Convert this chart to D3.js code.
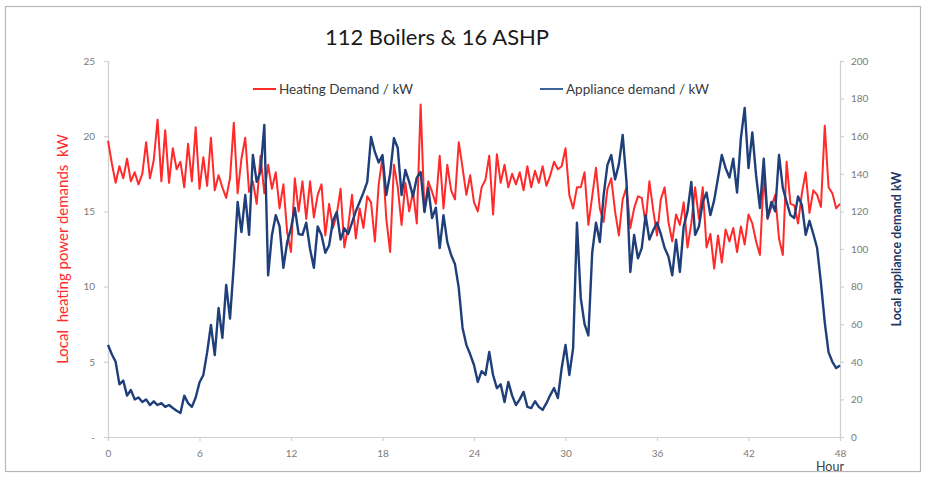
<!DOCTYPE html>
<html>
<head>
<meta charset="utf-8">
<script src="https://cdn.jsdelivr.net/npm/d3@7"></script>
<style>
  html, body { margin: 0; padding: 0; background: #ffffff; }
  svg { display: block; font-family: Lato, "Open Sans", "Liberation Sans", sans-serif; }
</style>
</head>
<body>
<svg id="chart" width="925" height="481"></svg>
<script>
// ---------------- DATA ----------------
const chartTitle = "112 Boilers & 16 ASHP";
const seriesNames = ["Heating Demand / kW", "Appliance demand / kW"];
const stepHours = 0.25; // time step between samples (hours)

// Heating demand (kW, left axis), samples every 0.25 h from 0 to 48 h
const heatingDemand = [
  19.7, 18.2, 16.9, 18.0,  17.2, 18.5, 17.0, 17.6,  16.8, 17.5, 19.6, 17.2,
  18.4, 21.1, 17.0, 20.4,  16.9, 19.2, 17.8, 18.3,  16.6, 19.5, 17.0, 20.6,
  16.5, 18.6, 16.7, 19.9,  16.4, 17.4, 16.6, 15.9,  17.2, 20.9, 16.2, 18.5,
  19.9, 16.3, 17.0, 15.5,  18.7, 16.2, 18.1, 16.5,  17.6, 15.2, 16.8, 13.6,
  12.3, 17.2, 15.0, 17.0,  14.5, 17.0, 14.6, 16.1,  16.8, 13.4, 15.5, 13.9,
  14.8, 16.5, 12.6, 14.0,  16.1, 13.2, 15.2, 13.9,  16.0, 15.6, 13.0, 16.8,
  18.6, 14.5, 12.3, 18.1,  16.6, 14.1, 16.9, 15.0,  16.3, 14.2, 22.1, 15.0,
  17.0, 16.3, 15.5, 18.7,  15.2, 18.1, 16.4, 15.8,  19.6, 17.9, 16.1, 17.4,
  15.6, 15.0, 16.6, 17.1,  18.7, 14.8, 18.8, 16.9,  18.1, 16.6, 17.5, 16.8,
  17.6, 16.4, 18.0, 16.6,  17.7, 16.9, 18.0, 16.7,  17.4, 18.3, 17.8, 18.0,
  19.2, 16.1, 15.2, 16.6,  16.6, 17.6, 14.1, 16.0,  17.9, 15.2, 14.3, 16.5,
  17.2, 15.0, 13.4, 15.8,  16.6, 13.9, 15.2, 16.0,  15.9, 14.2, 17.0, 15.1,
  13.4, 15.8, 16.6, 14.3,  13.0, 14.8, 14.1, 15.6,  12.6, 14.2, 16.6, 14.5,
  16.6, 12.6, 13.5, 11.2,  13.4, 11.6, 13.8, 13.0,  13.9, 12.3, 14.0, 12.8,
  14.8, 14.2, 13.0, 12.1,  17.4, 14.5, 15.3, 16.1,  13.2, 12.1, 18.3, 15.5,
  15.4, 14.2, 16.2, 17.6,  14.9, 16.4, 16.1, 15.3,  20.7, 16.6, 16.2, 15.2,
  15.5
];

// Appliance demand (kW, right axis), samples every 0.25 h from 0 to 48 h
const applianceDemand = [
  49, 44, 40, 28,  30, 22, 25, 20,  21, 18.6, 20, 17,  19, 17, 18, 16,
  17, 15.4, 14, 12.8,  22, 18, 16, 21,  29, 33, 45, 59.6,  43.6, 68.6, 52.7, 80.9,
  63, 91.5, 125, 109,  128.7, 107.5, 150, 135.7,  141, 166, 86, 107.5,  118, 112, 90, 103.7,
  111, 121.8, 108, 107.5,  114, 100, 90, 112,  107.5, 98, 102, 115,  119.7, 105, 111, 108,
  114, 120, 125, 130,  135.7, 159.6, 151.6, 146,  150, 128.7, 140, 159,  153.7, 128.7, 142, 135.7,
  128, 138, 141, 119.7,  132.5, 116.5, 122, 100.5,  118, 103.7, 96.8, 92,  79.3, 58, 49, 44,
  38.3, 29.3, 35, 33,  45.2, 33, 26, 28,  18.6, 29.3, 22, 17,  20, 24, 16, 15.4,
  19, 16, 14.4, 18,  22.3, 26, 20.7, 36.7,  49, 33, 47.3, 114,  74, 60, 54, 98,
  114, 103.7, 128.7, 144.7,  150, 137, 145, 160.7,  135.7, 87.8, 107.5, 95,  100.5, 118, 105, 110,
  114, 108, 100.5, 96,  86, 105, 87.8, 112,  120, 135.7, 107.5, 112,  125, 130, 118, 126,
  137.8, 150, 143, 138,  148, 130, 159, 175,  143, 162, 139, 121.8,  148, 116.5, 125, 120,
  150, 132.5, 125, 118,  116.5, 128, 123.4, 107.5,  115, 108, 100.5, 82,  61, 45, 40, 36.7,
  38
];

const xTicks = [0, 6, 12, 18, 24, 30, 36, 42, 48];
const leftTicks = [0, 5, 10, 15, 20, 25];
const leftTickLabels = ["-", "5", "10", "15", "20", "25"];
const rightTicks = [0, 20, 40, 60, 80, 100, 120, 140, 160, 180, 200];
const xAxisTitle = "Hour";
const leftAxisTitle = "Local  heating power demands  kW";
const rightAxisTitle = "Local appliance demand kW";

// ---------------- DRAW ----------------
const svg = d3.select("#chart");
const W = 925, H = 481;
const plot = { left: 108, right: 840, top: 61, bottom: 437 };

const colRed = "#ff2a2a";
const colBlue = "#1f3f7a";
const colAxis = "#d0d0d0";
const colTickText = "#7a7a7a";

svg.append("rect").attr("x", 0).attr("y", 0).attr("width", W).attr("height", H).attr("fill", "#ffffff");
// outer frame
svg.append("rect").attr("x", 5.5).attr("y", 6.5).attr("width", 915).attr("height", 465)
  .attr("fill", "none").attr("stroke", "#b8b8b8").attr("stroke-width", 1.2);

const x = d3.scaleLinear().domain([0, 48]).range([plot.left, plot.right]);
const yL = d3.scaleLinear().domain([0, 25]).range([plot.bottom, plot.top]);
const yR = d3.scaleLinear().domain([0, 200]).range([plot.bottom, plot.top]);

// Axes
const xAxis = d3.axisBottom(x).tickValues(xTicks).tickSize(4).tickPadding(9).tickFormat(d3.format("d"));
const gx = svg.append("g").attr("transform", `translate(0,${plot.bottom})`).call(xAxis);

const leftAxis = d3.axisLeft(yL).tickValues(leftTicks).tickSize(4).tickPadding(9)
  .tickFormat(d => leftTickLabels[leftTicks.indexOf(d)]);
const gl = svg.append("g").attr("transform", `translate(${plot.left},0)`).call(leftAxis);

const rightAxis = d3.axisRight(yR).tickValues(rightTicks).tickSize(4).tickPadding(7).tickFormat(d3.format("d"));
const gr = svg.append("g").attr("transform", `translate(${plot.right},0)`).call(rightAxis);

[gx, gl, gr].forEach(g => {
  g.select(".domain").attr("stroke", colAxis).attr("stroke-width", 1.2);
  g.selectAll(".tick line").attr("stroke", colAxis).attr("stroke-width", 1.2);
  g.selectAll(".tick text").attr("fill", colTickText).attr("font-size", 10)
    .attr("font-family", "Lato, 'Open Sans', sans-serif");
});

// Lines
const lineL = d3.line().x((d, i) => x(i * stepHours)).y(d => yL(d));
const lineR = d3.line().x((d, i) => x(i * stepHours)).y(d => yR(d));

svg.append("path").datum(heatingDemand).attr("d", lineL)
  .attr("fill", "none").attr("stroke", colRed).attr("stroke-width", 2).attr("stroke-linejoin", "round");
svg.append("path").datum(applianceDemand).attr("d", lineR)
  .attr("fill", "none").attr("stroke", colBlue).attr("stroke-width", 2.4).attr("stroke-linejoin", "round");

// Title
svg.append("text").attr("x", 437).attr("y", 45).attr("text-anchor", "middle")
  .attr("font-size", 22).attr("fill", "#1a1a1a").text(chartTitle);

// Legend
const legend = [
  { name: seriesNames[0], color: colRed, x: 253 },
  { name: seriesNames[1], color: "#3d6298", x: 540 }
];
legend.forEach(l => {
  svg.append("line").attr("x1", l.x).attr("x2", l.x + 23).attr("y1", 89).attr("y2", 89)
    .attr("stroke", l.color).attr("stroke-width", 2);
  svg.append("text").attr("x", l.x + 26).attr("y", 94).attr("font-size", 13.5)
    .attr("fill", "#3a3a3a").text(l.name);
});

// Axis titles
svg.append("text").attr("transform", "translate(68,249) rotate(-90)").attr("text-anchor", "middle")
  .style("white-space", "pre")
  .attr("font-size", 15).attr("fill", colRed).text(leftAxisTitle);
svg.append("text").attr("transform", "translate(901,249) rotate(-90)").attr("text-anchor", "middle")
  .attr("font-size", 12.5).attr("font-weight", "bold").attr("fill", "#1f3864").text(rightAxisTitle);
svg.append("text").attr("x", 830).attr("y", 471).attr("text-anchor", "middle")
  .attr("font-size", 12.5).attr("fill", "#404040").text(xAxisTitle);
</script>
</body>
</html>
